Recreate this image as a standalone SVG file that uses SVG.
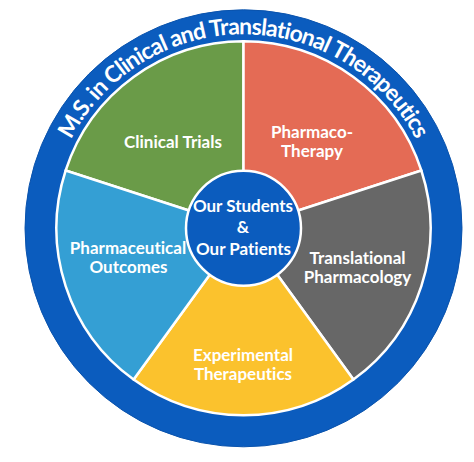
<svg xmlns="http://www.w3.org/2000/svg" width="474" height="462" viewBox="0 0 474 462">
  <style>
    .wedge { stroke: #ffffff; stroke-width: 2.5; stroke-linejoin: round; }
    .lbl { font-family: Lato, "Open Sans", "Liberation Sans", sans-serif; font-weight: bold; font-size: 17px; fill: #ffffff; text-anchor: middle; font-variant-ligatures: none; }
    .arc { font-family: Lato, "Open Sans", "Liberation Sans", sans-serif; font-weight: bold; font-size: 23px; fill: #ffffff; font-variant-ligatures: none; }
  </style>
  <defs>
    <path id="titleArc" d="M 49.5 228.3 A 194 194 0 0 1 437.5 228.3" fill="none"/>
  </defs>
  <rect width="474" height="462" fill="#ffffff"/>
  <g id="ring">
    <circle cx="243.5" cy="228.3" r="218.5" fill="#0b5cbe" stroke="#0a53ad" stroke-width="1"/>
    <text class="arc"><textPath href="#titleArc" startOffset="50%" text-anchor="middle" textLength="425" lengthAdjust="spacing">M.S. in Clinical and Translational Therapeutics</textPath></text>
  </g>
  <g id="clinical-trials">
    <path class="wedge" fill="#6a9b48" d="M 243.5 228.3 L 65.65 170.51 A 187 187 0 0 1 243.5 41.3 Z"/>
    <text class="lbl" x="173" y="148">Clinical Trials</text>
  </g>
  <g id="pharmacotherapy">
    <path class="wedge" fill="#e46b55" d="M 243.5 228.3 L 243.5 41.3 A 187 187 0 0 1 421.35 170.51 Z"/>
    <text class="lbl" x="312" y="138">Pharmaco-</text>
    <text class="lbl" x="312" y="157">Therapy</text>
  </g>
  <g id="translational-pharmacology">
    <path class="wedge" fill="#676767" d="M 243.5 228.3 L 421.35 170.51 A 187 187 0 0 1 353.42 379.59 Z"/>
    <text class="lbl" x="357.5" y="264">Translational</text>
    <text class="lbl" x="357.5" y="283">Pharmacology</text>
  </g>
  <g id="experimental-therapeutics">
    <path class="wedge" fill="#fbc22d" d="M 243.5 228.3 L 353.42 379.59 A 187 187 0 0 1 133.58 379.59 Z"/>
    <text class="lbl" x="243" y="361">Experimental</text>
    <text class="lbl" x="243" y="380">Therapeutics</text>
  </g>
  <g id="pharmaceutical-outcomes">
    <path class="wedge" fill="#349fd4" d="M 243.5 228.3 L 133.58 379.59 A 187 187 0 0 1 65.65 170.51 Z"/>
    <text class="lbl" x="128" y="254">Pharmaceutical</text>
    <text class="lbl" x="128.5" y="273">Outcomes</text>
  </g>
  <g id="center">
    <circle cx="243.5" cy="228.3" r="57.5" fill="#0b5cbe" stroke="#ffffff" stroke-width="2.5"/>
    <text class="lbl" x="243" y="212">Our Students</text>
    <text class="lbl" x="243" y="233">&amp;</text>
    <text class="lbl" x="243.5" y="255">Our Patients</text>
  </g>
</svg>
